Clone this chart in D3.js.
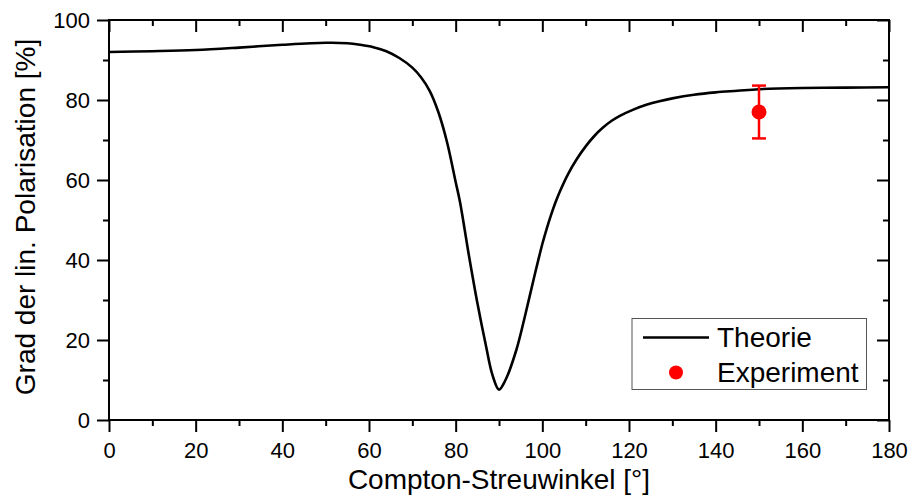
<!DOCTYPE html>
<html>
<head>
<script src="https://d3js.org/d3.v7.min.js"></script>
<style>
  body { margin: 0; background: #fff; }
  text { font-family: "Liberation Sans", Arial, sans-serif; }
</style>
</head>
<body>
<script>
// theory curve: angle [deg] -> degree of linear polarisation [%]
var angles = [0, 10, 20, 30, 40, 50, 55, 58, 61, 64, 67, 70, 72, 74, 76, 78, 80, 81, 83, 85, 87, 88.5, 90,
  91.5, 94, 96, 98, 100, 101, 102, 103, 104, 106, 108, 110, 112, 114, 116, 118, 121, 124, 127, 130, 135,
  140, 145, 150, 160, 170, 180];
var polarisation = [92.0, 92.2, 92.5, 93.1, 93.8, 94.3, 94.2, 93.8, 93.2, 92.2, 90.5, 88.1, 85.7, 82.3,
  77.0, 69.5, 59.5, 54.5, 41.5, 29.3, 18.5, 11.2, 7.6,
  10.0, 17.5, 26.0, 35.2, 44.0, 47.8, 51.2, 54.3, 57.0, 61.6, 65.3, 68.4, 71.0, 73.1, 74.8, 76.1, 77.6,
  78.8, 79.7, 80.4, 81.3, 81.9, 82.3, 82.7, 83.0, 83.1, 83.2];

// measurement
var expAngle = [150];
var expValue = [77.0];
var expLow = [70.4];
var expHigh = [83.6];

var xTicks = [0, 20, 40, 60, 80, 100, 120, 140, 160, 180];
var xMinor = [10, 30, 50, 70, 90, 110, 130, 150, 170];
var yTicks = [0, 20, 40, 60, 80, 100];
var yMinor = [10, 30, 50, 70, 90];

var W = 910, H = 495;
var pL = 109, pR = 889, pT = 20, pB = 420;

var svg = d3.select("body").append("svg")
  .attr("width", W)
  .attr("height", H);

var x = d3.scaleLinear().domain([0, 180]).range([pL, pR]);
var y = d3.scaleLinear().domain([0, 100]).range([pB, pT]);

// axes: majors with labels, minors without
function addAxis(axis, transform) {
  var g = svg.append("g").attr("transform", transform).call(axis);
  g.select(".domain").remove();
  g.selectAll("line").attr("stroke", "#000").attr("stroke-width", 2);
  g.selectAll("text").attr("font-size", 22).attr("fill", "#000")
    .attr("font-family", "'Liberation Sans', Arial, sans-serif");
  return g;
}

addAxis(d3.axisBottom(x).tickValues(xTicks).tickSize(12).tickPadding(10).tickFormat(d3.format("d")),
  "translate(0," + pB + ")");
addAxis(d3.axisBottom(x).tickValues(xMinor).tickSize(6).tickFormat(""), "translate(0," + pB + ")");
addAxis(d3.axisTop(x).tickValues(xTicks).tickSize(-12).tickFormat(""), "translate(0," + pT + ")");
addAxis(d3.axisTop(x).tickValues(xMinor).tickSize(-6).tickFormat(""), "translate(0," + pT + ")");

addAxis(d3.axisLeft(y).tickValues(yTicks).tickSize(12).tickPadding(7).tickFormat(d3.format("d")),
  "translate(" + pL + ",0)");
addAxis(d3.axisLeft(y).tickValues(yMinor).tickSize(6).tickFormat(""), "translate(" + pL + ",0)");
addAxis(d3.axisRight(y).tickValues(yTicks).tickSize(-12).tickFormat(""), "translate(" + pR + ",0)");
addAxis(d3.axisRight(y).tickValues(yMinor).tickSize(-6).tickFormat(""), "translate(" + pR + ",0)");

// frame
svg.append("rect")
  .attr("x", pL).attr("y", pT)
  .attr("width", pR - pL).attr("height", pB - pT)
  .attr("fill", "none").attr("stroke", "#000").attr("stroke-width", 2);

// theory line
var line = d3.line()
  .x(function(d, i) { return x(angles[i]); })
  .y(function(d) { return y(d); })
  .curve(d3.curveCatmullRom.alpha(0.5));

svg.append("path")
  .datum(polarisation)
  .attr("d", line)
  .attr("fill", "none")
  .attr("stroke", "#000")
  .attr("stroke-width", 2.6)
  .attr("stroke-linejoin", "round");

// experiment with error bar
var red = "#ff0000";
expAngle.forEach(function(a, i) {
  var cx = x(a);
  svg.append("line")
    .attr("x1", cx).attr("x2", cx)
    .attr("y1", y(expLow[i])).attr("y2", y(expHigh[i]))
    .attr("stroke", red).attr("stroke-width", 2.5);
  [expLow[i], expHigh[i]].forEach(function(v) {
    svg.append("line")
      .attr("x1", cx - 7).attr("x2", cx + 7)
      .attr("y1", y(v)).attr("y2", y(v))
      .attr("stroke", red).attr("stroke-width", 2.5);
  });
  svg.append("circle")
    .attr("cx", cx).attr("cy", y(expValue[i]))
    .attr("r", 7.5).attr("fill", red);
});

// legend
var lg = svg.append("g");
lg.append("rect")
  .attr("x", 632).attr("y", 318.5)
  .attr("width", 234.5).attr("height", 71)
  .attr("fill", "#fff").attr("stroke", "#555").attr("stroke-width", 1);
lg.append("line")
  .attr("x1", 643).attr("x2", 709)
  .attr("y1", 337.5).attr("y2", 337.5)
  .attr("stroke", "#000").attr("stroke-width", 2.6);
lg.append("text")
  .attr("x", 717).attr("y", 346.5)
  .attr("font-size", 28)
  .text("Theorie");
lg.append("circle")
  .attr("cx", 676).attr("cy", 372.5).attr("r", 7)
  .attr("fill", red);
lg.append("text")
  .attr("x", 717).attr("y", 381.5)
  .attr("font-size", 28)
  .text("Experiment");

// axis titles
svg.append("text")
  .attr("x", (pL + pR) / 2)
  .attr("y", 489)
  .attr("text-anchor", "middle")
  .attr("font-size", 28)
  .text("Compton-Streuwinkel [°]");

svg.append("text")
  .attr("transform", "translate(35," + ((pT + pB) / 2 - 3) + ") rotate(-90)")
  .attr("text-anchor", "middle")
  .attr("font-size", 28)
  .text("Grad der lin. Polarisation [%]");
</script>
</body>
</html>
